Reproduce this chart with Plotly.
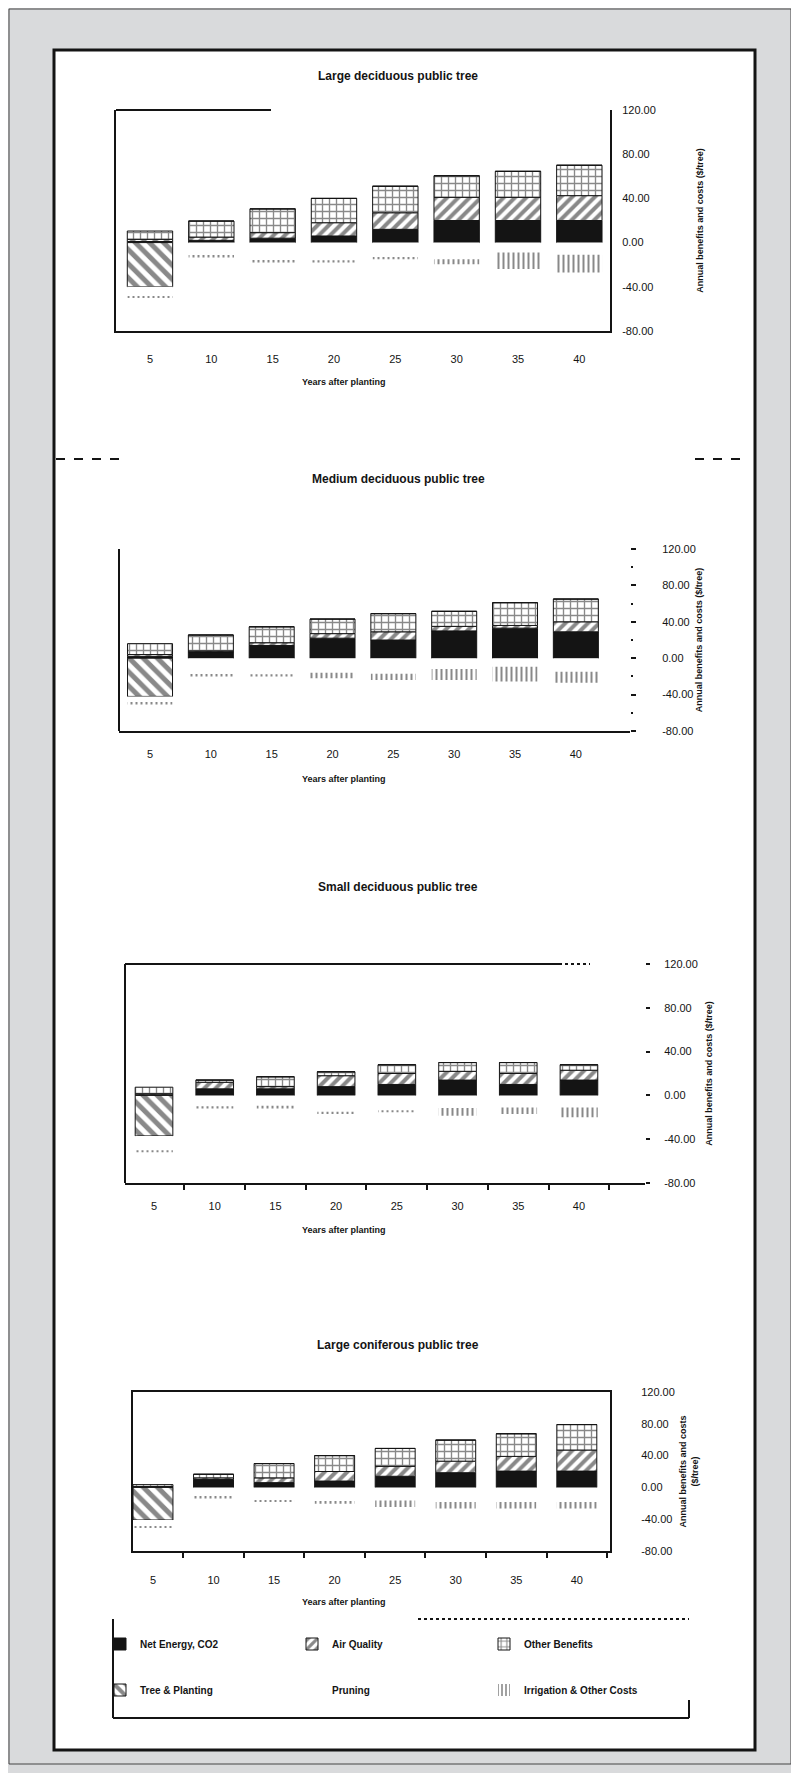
import plotly.graph_objects as go

# ---- data ($/tree) ----
years = [5, 10, 15, 20, 25, 30, 35, 40]
y_ticks = [-80, -40, 0, 40, 80, 120]

series_names = ["Net Energy, CO2", "Air Quality", "Other Benefits",
                "Tree & Planting", "Pruning", "Irrigation & Other Costs"]

panel_titles = ["Large deciduous public tree", "Medium deciduous public tree",
                "Small deciduous public tree", "Large coniferous public tree"]

# large deciduous
ld_energy = [1, 2, 4, 6, 12, 20, 20, 20]
ld_air = [2, 3, 5, 12, 15, 21, 21, 22.5]
ld_other = [7.5, 14.5, 21.5, 22, 24, 19.5, 23.5, 27.5]
ld_planting = [-40, 0, 0, 0, 0, 0, 0, 0]
ld_pruning = [-8.5, -12, -16.5, -16, -13, -15, -9, -11]
ld_other_costs = [-1.5, -1.5, -1.5, -2, -2, -4.5, -15, -16]

# medium deciduous
md_energy = [2, 7, 14, 22, 20, 30, 33, 29]
md_air = [2, 1, 3, 5, 9, 5, 3, 11]
md_other = [12, 17.5, 17.5, 16, 20, 16.5, 25, 25]
md_planting = [-42, 0, 0, 0, 0, 0, 0, 0]
md_pruning = [-7, -18, -17.5, -16, -17, -12, -9.5, -15]
md_other_costs = [-2, -2, -2.5, -6, -7, -12, -16, -12]

# small deciduous
sd_energy = [0.5, 6, 6, 8, 10, 14, 10, 14]
sd_air = [1, 6, 2, 10, 10, 8, 10, 9]
sd_other = [6, 2, 9, 3.6, 8, 8, 10, 5]
sd_planting = [-37, 0, 0, 0, 0, 0, 0, 0]
sd_pruning = [-13, -10, -9.5, -15, -13.5, -11.5, -11, -11]
sd_other_costs = [-2, -2, -2.5, -2, -2, -7, -6, -9]

# large coniferous
lc_energy = [0, 10, 6, 8, 14, 18.5, 20.5, 20.5]
lc_air = [1, 2, 6, 12, 12.5, 14.5, 18.5, 26.5]
lc_other = [2.5, 4.5, 18, 20, 22.5, 26.5, 28.5, 32]
lc_planting = [-41, 0, 0, 0, 0, 0, 0, 0]
lc_pruning = [-8, -12, -16.5, -18, -16.5, -18.5, -18.5, -18.5]
lc_other_costs = [-2, -2, -2, -2.5, -8, -8, -8, -8]

panel_data = [
    [ld_energy, ld_air, ld_other, ld_planting, ld_pruning, ld_other_costs],
    [md_energy, md_air, md_other, md_planting, md_pruning, md_other_costs],
    [sd_energy, sd_air, sd_other, sd_planting, sd_pruning, sd_other_costs],
    [lc_energy, lc_air, lc_other, lc_planting, lc_pruning, lc_other_costs],
]

# ---- page geometry (page pixels; the html body adds an 8px offset) ----
OFF = 8
W, H = 799 - OFF, 1773 - OFF
ML, MR = 50, 50
PW = W - ML - MR


def px(x):
    return (x - OFF - ML) / PW


def py(y):
    return 1 - (y - OFF) / H


FONT = "Liberation Sans, Arial, sans-serif"
INK = "#141414"

panels = [
    dict(x0=116, x1=610, y0=110, y1=331, xr=[2.23, 42.5], bw=3.7, title_y=76, xt_y=382,
         xlab_off=17, ylab_off=8, yt_off=42, ytitle="Annual benefits and costs ($/tree)"),
    dict(x0=119, x1=630, y0=549, y1=731, xr=[2.45, 44.45], bw=3.7, title_y=479, xt_y=779,
         xlab_off=12, ylab_off=24, yt_off=0, ytitle="Annual benefits and costs ($/tree)"),
    dict(x0=125, x1=645, y0=964, y1=1183, xr=[2.61, 45.44], bw=3.1, title_y=887, xt_y=1230,
         xlab_off=12, ylab_off=12, yt_off=8, ytitle="Annual benefits and costs ($/tree)"),
    dict(x0=133, x1=610, y0=1392, y1=1551, xr=[3.35, 42.74], bw=3.3, title_y=1345, xt_y=1602,
         xlab_off=18, ylab_off=27, yt_off=6, ytitle="Annual benefits and costs<br>($/tree)"),
]

styles = [
    dict(color=INK, line=dict(color=INK, width=1)),
    dict(color="white", line=dict(color=INK, width=1),
         pattern=dict(shape="/", fgcolor=INK, bgcolor="white", size=8, solidity=0.5)),
    dict(color="white", line=dict(color=INK, width=1),
         pattern=dict(shape="+", fgcolor=INK, bgcolor="white", size=7, solidity=0.35)),
    dict(color="white", line=dict(color=INK, width=1),
         pattern=dict(shape="\\", fgcolor=INK, bgcolor="white", size=10, solidity=0.5)),
    dict(color="white", line=dict(color="white", width=0)),
    dict(color="white", line=dict(color="white", width=0),
         pattern=dict(shape="|", fgcolor=INK, bgcolor="white", size=5, solidity=0.4)),
]

fig = go.Figure()

for i, (p, data) in enumerate(zip(panels, panel_data)):
    n = "" if i == 0 else str(i + 1)
    for k, (name, vals) in enumerate(zip(series_names, data)):
        fig.add_trace(go.Bar(
            x=years, y=vals, name=name, width=p["bw"],
            marker=styles[k], xaxis="x" + n, yaxis="y" + n,
            showlegend=(i == 0), legend="legend" if k < 3 else "legend2",
            hoverinfo="skip",
        ))

    xa = dict(
        domain=[px(p["x0"]), px(p["x1"])], range=p["xr"], anchor="y" + n,
        tickvals=years, ticktext=[str(v) for v in years], ticks="",
        showgrid=False, zeroline=False, fixedrange=True,
        ticklabelstandoff=p["xlab_off"],
        tickfont=dict(family=FONT, size=11, color=INK),
        showline=True, linecolor=INK, linewidth=2,
    )
    ya = dict(
        domain=[py(p["y1"]), py(p["y0"])], range=[-80, 120], anchor="x" + n,
        side="right", tickvals=y_ticks, ticktext=[f"{v:.2f}" for v in y_ticks],
        showgrid=False, zeroline=False, fixedrange=True,
        ticklabelstandoff=p["ylab_off"],
        tickfont=dict(family=FONT, size=11, color=INK),
        title=dict(text=p["ytitle"], standoff=p["yt_off"],
                   font=dict(family=FONT, size=9, color=INK, weight="bold")),
        showline=False, linecolor=INK, linewidth=2,
    )
    if i == 0:
        ya.update(showline=True, mirror=True)
    elif i == 1:
        ya.update(ticks="outside", ticklen=5, tickwidth=2, tickcolor=INK,
                  minor=dict(ticks="outside", ticklen=2, tickwidth=2, tickcolor=INK,
                             tick0=-80, dtick=20))
    elif i == 2:
        xa.update(minor=dict(ticks="outside", ticklen=5, tickwidth=2, tickcolor=INK,
                             tick0=2.5, dtick=5))
        ya.update(ticks="outside", ticklen=4, tickwidth=2, tickcolor=INK)
    else:
        xa.update(mirror=True,
                  minor=dict(ticks="outside", ticklen=5, tickwidth=2, tickcolor=INK,
                             tick0=2.5, dtick=5))
        ya.update(showline=True, mirror=True)

    fig.layout["xaxis" + n] = xa
    fig.layout["yaxis" + n] = ya

    fig.add_annotation(text=panel_titles[i], xref="paper", yref="paper",
                       x=px(398), y=py(p["title_y"]), showarrow=False,
                       xanchor="center", yanchor="middle",
                       font=dict(family=FONT, size=12, color=INK, weight="bold"))
    fig.add_annotation(text="Years after planting", xref="paper", yref="paper",
                       x=px(344), y=py(p["xt_y"]), showarrow=False,
                       xanchor="center", yanchor="middle",
                       font=dict(family=FONT, size=9, color=INK, weight="bold"))


def seg(x0, y0, x1, y1, width=2, dash="solid"):
    return dict(type="line", xref="paper", yref="paper",
                x0=px(x0), x1=px(x1), y0=py(y0), y1=py(y1),
                line=dict(color=INK, width=width, dash=dash))


shapes = [
    # outer thin frame and inner white panel
    dict(type="rect", xref="paper", yref="paper",
         x0=px(9), x1=px(791), y0=py(9), y1=py(1764),
         line=dict(color="#444", width=1), layer="below"),
    dict(type="rect", xref="paper", yref="paper",
         x0=px(54), x1=px(755), y0=py(50), y1=py(1750),
         fillcolor="white", line=dict(color=INK, width=3), layer="below"),
    # left lines for panels 2 and 3
    seg(119, 549, 119, 731),
    seg(125, 964, 125, 1183),
    # partial top lines, panels 1 and 3
    seg(116, 110, 271, 110),
    seg(125, 964, 559, 964),
    seg(559, 964, 590, 964, dash="dot"),
    # separator fragments from the scan
    seg(56, 459, 119, 459, dash="dash"),
    seg(695, 459, 746, 459, dash="dash"),
    # legend box
    seg(113, 1619, 113, 1718),
    seg(113, 1718, 689, 1718),
    seg(689, 1700, 689, 1718),
    seg(418, 1619, 689, 1619, dash="dot"),
]

legend_style = dict(
    orientation="h", xref="paper", yref="paper", xanchor="left", yanchor="middle",
    x=px(100), entrywidth=147, entrywidthmode="pixels", itemwidth=30,
    bgcolor="rgba(0,0,0,0)", borderwidth=0, traceorder="normal",
    font=dict(family=FONT, size=10, color=INK, weight="bold"),
)

fig.update_layout(
    width=W, height=H,
    margin=dict(l=ML, r=MR, t=0, b=0, autoexpand=False),
    paper_bgcolor="#d9dadc", plot_bgcolor="rgba(0,0,0,0)",
    barmode="relative", bargap=0.3,
    shapes=shapes,
    legend=dict(legend_style, y=py(1644)),
    legend2=dict(legend_style, y=py(1690)),
    font=dict(family=FONT, color=INK),
)

fig.write_html("out.html")
